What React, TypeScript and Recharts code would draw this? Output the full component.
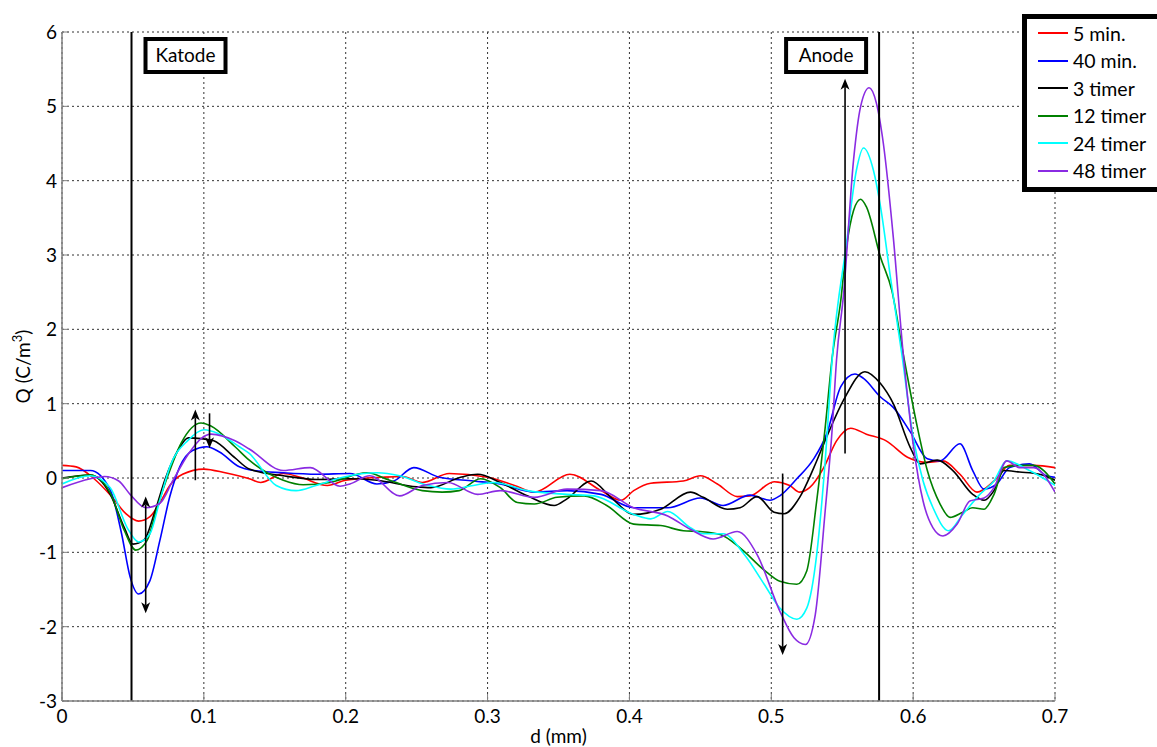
import React from "react";
import {
  LineChart,
  Line,
  XAxis,
  YAxis,
  CartesianGrid,
  ReferenceLine,
  Legend,
  Label,
} from "recharts";

type Pt = [number, number];

// d (mm), Q (C/m^3)
const min5: Pt[] = [
  [0, 0.17], [0.01, 0.15], [0.022, 0.0], [0.035, -0.25], [0.045, -0.48], [0.054, -0.58],
  [0.062, -0.52], [0.07, -0.3], [0.076, -0.1], [0.085, 0.05], [0.1, 0.12], [0.115, 0.07],
  [0.132, -0.01], [0.14, -0.06], [0.156, 0.06], [0.168, 0.01], [0.187, -0.1], [0.2, -0.03],
  [0.226, 0.01], [0.24, 0.02], [0.254, -0.06], [0.273, 0.06], [0.3, 0.01], [0.319, -0.1],
  [0.333, -0.19], [0.358, 0.05], [0.38, -0.17], [0.394, -0.3], [0.403, -0.17], [0.415, -0.07],
  [0.438, -0.04], [0.45, 0.03], [0.462, -0.08], [0.476, -0.25], [0.485, -0.24], [0.502, -0.05],
  [0.513, -0.1], [0.52, -0.19], [0.527, -0.13], [0.537, 0.14], [0.546, 0.5], [0.556, 0.67],
  [0.567, 0.59], [0.581, 0.5], [0.596, 0.28], [0.61, 0.21], [0.621, 0.23], [0.633, 0.05],
  [0.645, -0.19], [0.657, -0.04], [0.668, 0.17], [0.685, 0.17], [0.7, 0.14],
];

const min40: Pt[] = [
  [0, 0.1], [0.02, 0.1], [0.034, -0.16], [0.042, -0.75], [0.048, -1.33], [0.054, -1.56],
  [0.062, -1.38], [0.069, -0.84], [0.076, -0.25], [0.083, 0.15], [0.092, 0.37], [0.102, 0.42],
  [0.111, 0.35], [0.125, 0.15], [0.132, 0.11], [0.156, 0.07], [0.18, 0.05], [0.203, 0.06],
  [0.222, -0.08], [0.234, -0.04], [0.248, 0.14], [0.266, 0.01], [0.29, -0.04], [0.309, -0.08],
  [0.333, -0.19], [0.356, -0.17], [0.38, -0.22], [0.403, -0.4], [0.427, -0.4], [0.45, -0.27],
  [0.466, -0.37], [0.485, -0.23], [0.499, -0.3], [0.506, -0.24], [0.518, -0.01], [0.53, 0.26],
  [0.539, 0.59], [0.549, 1.23], [0.559, 1.4], [0.565, 1.34], [0.577, 1.09], [0.586, 0.95],
  [0.598, 0.62], [0.61, 0.26], [0.619, 0.23], [0.633, 0.46], [0.642, 0.1], [0.65, -0.15],
  [0.659, -0.08], [0.668, 0.14], [0.682, 0.19], [0.694, 0.03], [0.7, 0.01],
];

const hr3: Pt[] = [
  [0, 0.0], [0.02, 0.04], [0.034, -0.22], [0.044, -0.67], [0.05, -0.89], [0.058, -0.83],
  [0.065, -0.48], [0.073, 0.0], [0.082, 0.38], [0.089, 0.54], [0.098, 0.53], [0.107, 0.5],
  [0.122, 0.27], [0.132, 0.12], [0.156, 0.03], [0.18, -0.02], [0.203, -0.01], [0.222, -0.03],
  [0.25, -0.12], [0.26, -0.13], [0.281, 0.01], [0.293, 0.05], [0.309, -0.06], [0.328, -0.24],
  [0.347, -0.37], [0.356, -0.28], [0.373, -0.04], [0.387, -0.26], [0.403, -0.49], [0.422, -0.42],
  [0.443, -0.19], [0.452, -0.26], [0.469, -0.42], [0.478, -0.4], [0.49, -0.25], [0.502, -0.46],
  [0.509, -0.48], [0.52, -0.26], [0.53, 0.14], [0.539, 0.55], [0.551, 1.05], [0.566, 1.43],
  [0.577, 1.27], [0.586, 1.0], [0.598, 0.41], [0.605, 0.19], [0.617, 0.24], [0.628, 0.1],
  [0.642, -0.22], [0.65, -0.3], [0.657, -0.17], [0.664, 0.1], [0.675, 0.08], [0.689, 0.05],
  [0.7, -0.03],
];

const hr12: Pt[] = [
  [0, -0.01], [0.02, 0.04], [0.034, -0.2], [0.044, -0.71], [0.052, -0.97], [0.06, -0.84],
  [0.067, -0.4], [0.075, 0.05], [0.084, 0.47], [0.098, 0.74], [0.105, 0.7], [0.122, 0.42],
  [0.132, 0.24], [0.156, -0.03], [0.17, -0.09], [0.189, -0.06], [0.215, 0.07], [0.231, -0.03],
  [0.254, -0.17], [0.268, -0.19], [0.28, -0.17], [0.295, -0.01], [0.309, -0.13], [0.321, -0.33],
  [0.333, -0.35], [0.349, -0.26], [0.368, -0.24], [0.384, -0.37], [0.403, -0.62], [0.422, -0.64],
  [0.438, -0.71], [0.45, -0.72], [0.464, -0.76], [0.478, -0.94], [0.495, -1.24], [0.506, -1.39],
  [0.518, -1.43], [0.525, -1.25], [0.532, -0.31], [0.538, 0.68], [0.543, 1.63], [0.549, 2.39],
  [0.553, 3.1], [0.558, 3.6], [0.563, 3.75], [0.567, 3.65], [0.577, 2.97], [0.585, 2.52],
  [0.593, 1.67], [0.603, 0.68], [0.61, 0.1], [0.619, -0.35], [0.626, -0.53], [0.635, -0.46],
  [0.642, -0.4], [0.65, -0.42], [0.657, -0.22], [0.664, 0.14], [0.675, 0.17], [0.685, 0.17],
  [0.7, -0.08],
];

const hr24: Pt[] = [
  [0, -0.08], [0.02, 0.03], [0.034, -0.13], [0.046, -0.67], [0.054, -0.86], [0.062, -0.75],
  [0.069, -0.3], [0.076, 0.15], [0.089, 0.51], [0.1, 0.65], [0.11, 0.6], [0.125, 0.42],
  [0.132, 0.33], [0.151, -0.1], [0.165, -0.17], [0.179, -0.1], [0.198, 0.01], [0.222, 0.07],
  [0.238, 0.03], [0.258, -0.1], [0.274, -0.15], [0.29, -0.1], [0.304, -0.06], [0.328, -0.17],
  [0.356, -0.22], [0.375, -0.24], [0.403, -0.49], [0.415, -0.55], [0.427, -0.45], [0.443, -0.67],
  [0.452, -0.75], [0.466, -0.75], [0.481, -1.03], [0.495, -1.43], [0.506, -1.75], [0.518, -1.9],
  [0.525, -1.75], [0.532, -1.03], [0.538, 0.23], [0.543, 1.62], [0.553, 3.15], [0.56, 4.14],
  [0.565, 4.44], [0.572, 4.14], [0.577, 3.65], [0.584, 2.7], [0.592, 1.67], [0.6, 0.55],
  [0.607, -0.04], [0.614, -0.4], [0.625, -0.71], [0.635, -0.49], [0.647, -0.22], [0.657, -0.04],
  [0.666, 0.23], [0.682, 0.1], [0.7, -0.1],
];

const hr48: Pt[] = [
  [0, -0.13], [0.02, -0.01], [0.03, 0.02], [0.04, -0.04], [0.048, -0.22], [0.059, -0.4],
  [0.069, -0.34], [0.078, -0.04], [0.089, 0.32], [0.098, 0.53], [0.105, 0.59], [0.122, 0.5],
  [0.132, 0.39], [0.156, 0.1], [0.175, 0.14], [0.196, -0.11], [0.203, -0.08], [0.217, 0.03],
  [0.238, -0.24], [0.254, -0.1], [0.272, -0.06], [0.293, -0.22], [0.309, -0.17], [0.333, -0.26],
  [0.356, -0.15], [0.38, -0.17], [0.403, -0.4], [0.427, -0.51], [0.443, -0.69], [0.459, -0.82],
  [0.476, -0.72], [0.49, -1.03], [0.506, -1.79], [0.516, -2.15], [0.524, -2.24], [0.531, -1.84],
  [0.538, -0.44], [0.543, 0.68], [0.546, 1.59], [0.551, 2.48], [0.558, 4.28], [0.563, 5.0],
  [0.569, 5.25], [0.574, 5.05], [0.579, 4.5], [0.586, 3.24], [0.593, 1.67], [0.6, 0.46],
  [0.607, -0.31], [0.614, -0.67], [0.621, -0.78], [0.631, -0.62], [0.64, -0.31], [0.65, -0.27],
  [0.657, -0.13], [0.666, 0.23], [0.675, 0.14], [0.685, 0.14], [0.7, -0.19],
];

const seriesNames = ["5 min.", "40 min.", "3 timer", "12 timer", "24 timer", "48 timer"];
const seriesColors = ["#ff0000", "#0000ff", "#000000", "#008000", "#00ffff", "#8a2be2"];
const seriesPoints = [min5, min40, hr3, hr12, hr24, hr48];

const xTicks = [0, 0.1, 0.2, 0.3, 0.4, 0.5, 0.6, 0.7];
const yTicks = [-3, -2, -1, 0, 1, 2, 3, 4, 5, 6];

const electrodes = [
  { x: 0.049, name: "Katode", side: "right" },
  { x: 0.576, name: "Anode", side: "left" },
];

// vertical arrows: tail y -> head y (both = heads on both ends)
const arrows = [
  { x: 0.059, from: -0.25, to: -1.82, both: true },
  { x: 0.094, from: -0.03, to: 0.92, both: false },
  { x: 0.104, from: 0.87, to: 0.4, both: false },
  { x: 0.508, from: 0.06, to: -2.38, both: false },
  { x: 0.552, from: 0.33, to: 5.37, both: false },
];

const FONT = "Lato, 'Open Sans', sans-serif";
const AXIS_GREY = "#808080";

const XTick = (p: any) => {
  const { x, y, payload } = p;
  return (
    <g>
      <line x1={x} x2={x} y1={y} y2={y - 7} stroke={AXIS_GREY} />
      <text x={x} y={y + 22} textAnchor="middle" fontSize={19} fontFamily={FONT} fill="#000">
        {payload.value}
      </text>
    </g>
  );
};

const YTick = (p: any) => {
  const { x, y, payload } = p;
  return (
    <g>
      <line x1={x} x2={x + 7} y1={y} y2={y} stroke={AXIS_GREY} />
      <text x={x - 5} y={y + 7} textAnchor="end" fontSize={19} fontFamily={FONT} fill="#000">
        {payload.value}
      </text>
    </g>
  );
};

const YLabel = (p: any) => {
  const { x, y, height } = p.viewBox;
  const cx = x + 23;
  const cy = y + height / 2;
  return (
    <text
      x={cx}
      y={cy + 7}
      transform={`rotate(-90 ${cx} ${cy})`}
      textAnchor="middle"
      fontSize={19}
      fontFamily={FONT}
      fill="#000"
    >
      Q (C/m
      <tspan dy={-8} fontSize={13}>3</tspan>
      <tspan dy={8}>)</tspan>
    </text>
  );
};

const XLabel = (p: any) => {
  const { x, y, width } = p.viewBox;
  return (
    <text x={x + width / 2} y={y + 42} textAnchor="middle" fontSize={19} fontFamily={FONT} fill="#000">
      d (mm)
    </text>
  );
};

const ElectrodeBox = ({ viewBox, name, side }: any) => {
  const left = side === "right" ? viewBox.x + 12 : viewBox.x - 95;
  const top = viewBox.y + 5;
  return (
    <g>
      <rect x={left + 2} y={top + 2} width={80} height={33} fill="#fff" stroke="#000" strokeWidth={4} />
      <text x={left + 42} y={top + 25} textAnchor="middle" fontSize={19} fontFamily={FONT} fill="#000">
        {name}
      </text>
    </g>
  );
};

const Arrow = (p: any) => {
  const { x1, y1, x2, y2, both } = p;
  const len = Math.hypot(x2 - x1, y2 - y1) || 1;
  const dx = (x2 - x1) / len;
  const dy = (y2 - y1) / len;
  const head = (tx: number, ty: number, ux: number, uy: number) => {
    const bx = tx - ux * 11;
    const by = ty - uy * 11;
    const nx = -uy * 4.5;
    const ny = ux * 4.5;
    return `${tx},${ty} ${bx + nx},${by + ny} ${tx - ux * 8},${ty - uy * 8} ${bx - nx},${by - ny}`;
  };
  const sx = both ? x1 + dx * 8 : x1;
  const sy = both ? y1 + dy * 8 : y1;
  return (
    <g>
      <line x1={sx} y1={sy} x2={x2 - dx * 8} y2={y2 - dy * 8} stroke="#000" strokeWidth={1.6} />
      <polygon points={head(x2, y2, dx, dy)} fill="#000" />
      {both && <polygon points={head(x1, y1, -dx, -dy)} fill="#000" />}
    </g>
  );
};

const LegendBox = (p: any) => {
  const items = [...(p.payload || [])].sort(
    (a: any, b: any) => seriesNames.indexOf(a.value) - seriesNames.indexOf(b.value)
  );
  return (
    <div
      style={{
        border: "5px solid #000",
        background: "#fff",
        width: 150,
        height: 178,
        boxSizing: "border-box",
        paddingTop: 0.5,
      }}
    >
      {items.map((it: any) => (
        <div key={it.value} style={{ display: "flex", alignItems: "center", height: 27.5 }}>
          <span
            style={{
              display: "inline-block",
              marginLeft: 11,
              width: 30,
              height: 0,
              borderTop: `2px solid ${it.color}`,
            }}
          />
          <span style={{ marginLeft: 5, fontSize: 19.5, fontFamily: FONT, color: "#000", lineHeight: 1 }}>
            {it.value}
          </span>
        </div>
      ))}
    </div>
  );
};

export default function App() {
  const series = seriesNames.map((name, i) => ({
    name,
    color: seriesColors[i],
    data: seriesPoints[i].map(([x, y]) => ({ x, y })),
  }));

  return (
    <div
      style={{
        position: "absolute",
        left: 0,
        top: 0,
        width: 1157,
        height: 747,
        overflow: "hidden",
        background: "#fff",
      }}
    >
      <LineChart width={1157} height={747} margin={{ top: 32, right: 102, bottom: 0, left: 0 }}>
        <CartesianGrid stroke="#333" strokeDasharray="2 3" />
        <XAxis
          dataKey="x"
          type="number"
          domain={[0, 0.7]}
          ticks={xTicks}
          allowDataOverflow
          height={46}
          tickSize={0}
          tickMargin={0}
          tickLine={false}
          axisLine={{ stroke: AXIS_GREY, strokeWidth: 1.5 }}
          tick={<XTick />}
          interval={0}
        >
          <Label content={<XLabel />} />
        </XAxis>
        <YAxis
          type="number"
          domain={[-3, 6]}
          ticks={yTicks}
          allowDataOverflow
          width={62}
          tickSize={0}
          tickMargin={0}
          tickLine={false}
          axisLine={{ stroke: AXIS_GREY, strokeWidth: 1.5 }}
          tick={<YTick />}
          interval={0}
        >
          <Label content={<YLabel />} />
        </YAxis>
        {series.map((s) => (
          <Line
            key={s.name}
            data={s.data}
            dataKey="y"
            name={s.name}
            type="monotone"
            stroke={s.color}
            strokeWidth={1.6}
            dot={false}
            activeDot={false}
            isAnimationActive={false}
          />
        ))}
        {electrodes.map((e) => (
          <ReferenceLine
            key={e.name}
            x={e.x}
            stroke="#000"
            strokeWidth={2}
            label={{ content: (p: any) => <ElectrodeBox viewBox={p.viewBox} name={e.name} side={e.side} /> }}
          />
        ))}
        {arrows.map((a, i) => (
          <ReferenceLine
            key={i}
            segment={[
              { x: a.x, y: a.from },
              { x: a.x, y: a.to },
            ]}
            stroke="#000"
            shape={(p: any) => <Arrow {...p} both={a.both} />}
          />
        ))}
        <Legend
          layout="vertical"
          align="center"
          verticalAlign="middle"
          wrapperStyle={{ left: 1022, top: 14, width: 150 }}
          content={<LegendBox />}
        />
      </LineChart>
    </div>
  );
}
